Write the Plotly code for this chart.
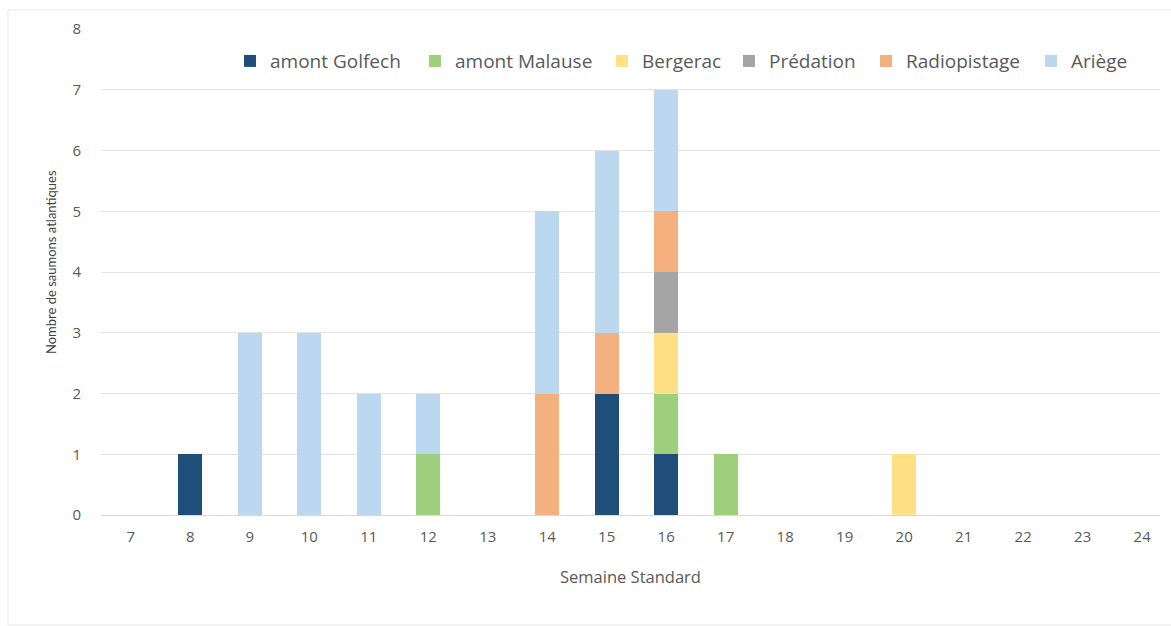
import plotly.graph_objects as go

# Semaines standard (axe des abscisses)
weeks = list(range(7, 25))

# Nombre de saumons par devenir et par semaine
golfech      = [0, 1, 0, 0, 0, 0, 0, 0, 2, 1, 0, 0, 0, 0, 0, 0, 0, 0]
malause      = [0, 0, 0, 0, 0, 1, 0, 0, 0, 1, 1, 0, 0, 0, 0, 0, 0, 0]
bergerac     = [0, 0, 0, 0, 0, 0, 0, 0, 0, 1, 0, 0, 0, 1, 0, 0, 0, 0]
predation    = [0, 0, 0, 0, 0, 0, 0, 0, 0, 1, 0, 0, 0, 0, 0, 0, 0, 0]
radiopistage = [0, 0, 0, 0, 0, 0, 0, 2, 1, 1, 0, 0, 0, 0, 0, 0, 0, 0]
ariege       = [0, 0, 3, 3, 2, 1, 0, 3, 3, 2, 0, 0, 0, 0, 0, 0, 0, 0]

series = [
    ("amont Golfech", golfech, "#1f4e79"),
    ("amont Malause", malause, "#9dcf7c"),
    ("Bergerac", bergerac, "#ffe084"),
    ("Prédation", predation, "#a5a5a5"),
    ("Radiopistage", radiopistage, "#f5b07f"),
    ("Ariège", ariege, "#bcd7f0"),
]

# Position horizontale (fraction de la zone de tracé) de chaque entrée de légende
legend_x = [0.1218, 0.2965, 0.4731, 0.5930, 0.7224, 0.8782]

grey = "#595959"

fig = go.Figure()
legend_layouts = {}
for i, ((name, vals, color), lx) in enumerate(zip(series, legend_x)):
    key = "legend" if i == 0 else f"legend{i + 1}"
    fig.add_trace(go.Bar(
        x=weeks, y=vals, name=name, legend=key,
        marker=dict(color=color, line=dict(width=0)),
    ))
    legend_layouts[key] = dict(
        orientation="h",
        x=lx, xanchor="left",
        y=0.934, yanchor="middle",
        font=dict(size=19, color=grey),
        bgcolor="rgba(0,0,0,0)",
    )

fig.update_layout(
    barmode="stack",
    bargap=0.6,
    width=1171, height=626,
    margin=dict(l=101, r=11, t=29, b=111),
    paper_bgcolor="white",
    plot_bgcolor="white",
    font=dict(family="Open Sans", color=grey, size=15),
    showlegend=True,
    xaxis=dict(
        range=[6.5, 24.3],
        tickmode="array",
        tickvals=weeks,
        ticktext=[str(w) for w in weeks],
        showgrid=False,
        showline=True,
        linecolor="#d9d9d9",
        linewidth=1,
        ticks="",
        ticklabelstandoff=8,
        tickfont=dict(size=15, color=grey),
        title=dict(text="Semaine Standard", font=dict(size=16.5, color=grey),
                   standoff=26),
        zeroline=False,
    ),
    yaxis=dict(
        range=[0, 8],
        dtick=1,
        showgrid=True,
        gridcolor="#e3e3e3",
        gridwidth=1,
        zeroline=False,
        showline=False,
        ticks="",
        ticklabelstandoff=19,
        tickfont=dict(size=15, color=grey),
    ),
    **legend_layouts,
)

# Titre de l'axe vertical
fig.add_annotation(
    text="Nombre de saumons atlantiques",
    xref="paper", yref="paper",
    x=-0.0472, y=0.5206,
    xanchor="center", yanchor="middle",
    textangle=-90, showarrow=False,
    font=dict(family="Lato", size=13, color="#404040"),
)

# Cadre gris clair autour de la zone graphique
fig.add_shape(
    type="rect", xref="paper", yref="paper",
    x0=-0.0878, x1=1.03, y0=-0.2263, y1=1.039,
    line=dict(color="#e8e8e8", width=1),
    fillcolor="rgba(0,0,0,0)", layer="below",
)

fig.write_html("out.html")
